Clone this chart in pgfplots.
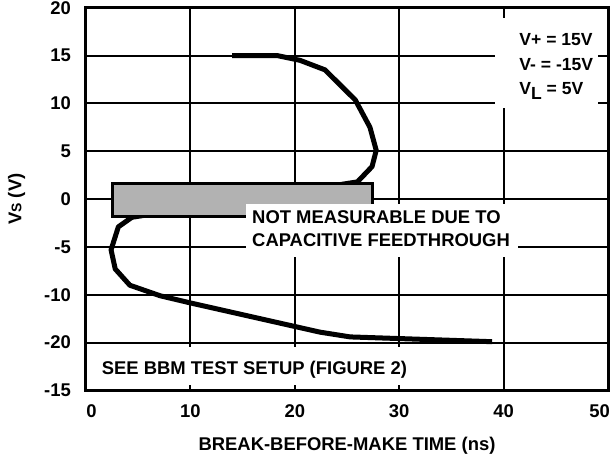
\documentclass[border=0pt]{standalone}
\usepackage{fontspec}
\setmainfont{Liberation Sans}
\usepackage{pgfplots}
\pgfplotsset{compat=1.18}
\newcommand{\tf}{\bfseries\fontsize{18.5}{22}\selectfont}
\newcommand{\vf}{\bfseries\fontsize{17.6}{21}\selectfont}
\begin{document}
\begin{tikzpicture}
\useasboundingbox (-86bp,-63.5bp) rectangle (525bp,390.5bp);
\begin{axis}[
  at={(0,0)}, anchor=south west,
  width=522bp, height=382.8bp, scale only axis,
  xmin=0, xmax=50, ymin=-20, ymax=20,
  xtick={0,10,...,50},
  xticklabels={\hspace*{11bp}0,10,20,30,40,50\hspace*{17bp}},
  ytick={-20,-15,...,20},
  yticklabels={-15,-20,-10,-5,0,5,10,15,20},
  major tick length=0pt,
  grid=major,
  major grid style={black, line width=2bp},
  axis line style={black, line width=3bp},
  tick label style={font=\tf, inner sep=0pt},
  xticklabel style={anchor=base, yshift=-26.5bp},
  yticklabel style={anchor=east, xshift=-15bp},
  xlabel={BREAK-BEFORE-MAKE TIME (ns)},
  ylabel={V{\fontsize{14}{14}\selectfont S} (V)},
  label style={font=\tf},
  xlabel style={at={(axis description cs:0.5,0)}, anchor=base, yshift=-60bp, inner sep=0pt},
  ylabel style={at={(axis description cs:0,0.5)}, anchor=center, yshift=69.5bp, inner sep=0pt},
]
\addplot[black, line width=5bp, line join=round] coordinates {
(14,15)(18.3,15)(20.5,14.5)(22.9,13.5)(25.8,10.35)(27.2,7.5)(27.8,5.1)(27.4,3.4)(26,1.8)
(4.4,-1.9)(3.1,-2.9)(2.4,-5.3)(2.8,-7.3)(4.2,-9)(7.1,-10.1)(10,-10.85)(22.4,-13.9)(25.3,-14.4)(38.9,-14.9)};
\addplot[fill=gray!60, draw=black, line width=3bp] coordinates {
(2.56,1.65)(27.46,1.65)(27.46,-1.84)(2.56,-1.84)} --cycle;
\fill[white] (axis cs:15.3,-0.51) rectangle (axis cs:41.4,-6.1);
\fill[white] (axis cs:39.2,18.9) rectangle (axis cs:49.0,9.5);
\fill[white] (axis cs:0.2,-15.42) rectangle (axis cs:32,-19.45);
\node[anchor=base west, inner sep=0pt, font=\tf] at (axis cs:15.9,-2.6) {NOT MEASURABLE DUE TO};
\node[anchor=base west, inner sep=0pt, font=\tf] at (axis cs:15.9,-4.97) {CAPACITIVE FEEDTHROUGH};
\node[anchor=base west, inner sep=0pt, font=\vf] at (axis cs:41.5,16.0) {V+ = 15V};
\node[anchor=base west, inner sep=0pt, font=\vf] at (axis cs:41.5,13.42) {V- = -15V};
\node[anchor=base west, inner sep=0pt, font=\vf] at (axis cs:41.5,10.98) {V\raisebox{-5bp}{L} = 5V};
\node[anchor=base west, inner sep=0pt, font=\tf] at (axis cs:1.5,-18.28) {SEE BBM TEST SETUP (FIGURE 2)};
\end{axis}
\end{tikzpicture}
\end{document}
